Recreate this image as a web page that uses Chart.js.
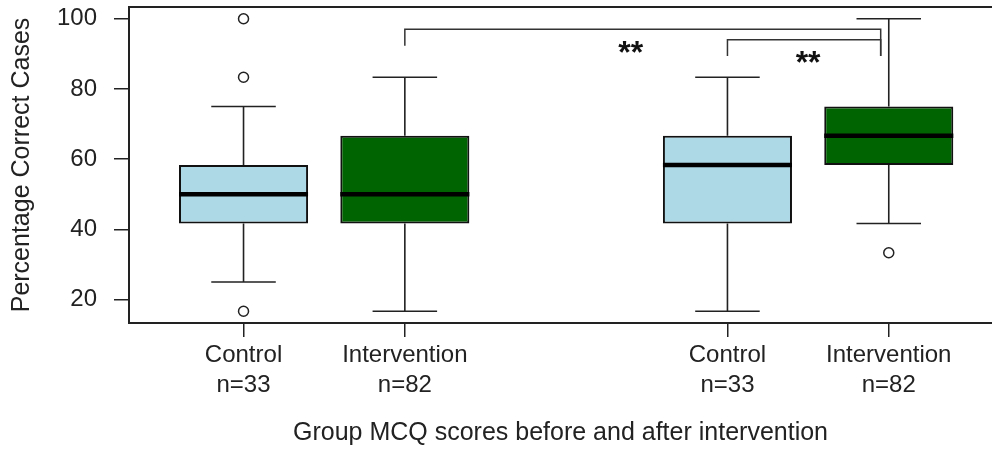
<!DOCTYPE html>
<html>
<head>
<meta charset="utf-8">
<script src="https://cdn.jsdelivr.net/npm/chart.js@4"></script>
<style>
  html, body { margin: 0; padding: 0; background: #ffffff; }
  #wrap { width: 992px; height: 450px; position: relative; }
</style>
</head>
<body>
<div id="wrap"><canvas id="chart"></canvas></div>
<script>
// Box positions and labels
const positions = [1, 2, 4, 5];
const groups = ['Control', 'Intervention', 'Control', 'Intervention'];
const sizes = ['n=33', 'n=82', 'n=33', 'n=82'];

// Five-number summaries (percentage correct)
const whiskerLow = [25, 16.67, 16.67, 41.67];
const quartile1 = [41.67, 41.67, 41.67, 58.33];
const medians = [50, 50, 58.33, 66.67];
const quartile3 = [58.33, 66.67, 66.67, 75];
const whiskerHigh = [75, 83.33, 83.33, 100];

// Outlying scores
const outlierX = [1, 1, 1, 5];
const outlierY = [100, 83.33, 16.67, 33.33];

// Y axis ticks
const yTicks = [20, 40, 60, 80, 100];

// Significance brackets and their labels
const bracketFrom = [2, 4];
const bracketTo = [4.95, 4.95];
const bracketTop = [97, 94];
const bracketLeftFoot = [92.3, 89.4];
const bracketRightFoot = [89.4, 89.4];
const starX = [3.4, 4.5];
const starY = [92, 89];
const starText = ['**', '**'];

const boxColors = { Control: '#ADD8E6', Intervention: '#006400' };
const FONT = "'Liberation Sans', Arial, sans-serif";
const INK = '#222222';
const CAP_WIDTH = 0.4;

const boxplotParts = {
  id: 'boxplotParts',
  beforeDatasetsDraw(chart) {
    const { ctx, scales: { x, y } } = chart;
    ctx.save();
    ctx.strokeStyle = INK;
    ctx.lineWidth = 1.6;
    positions.forEach((p, i) => {
      const cx = x.getPixelForValue(p);
      const left = x.getPixelForValue(p - CAP_WIDTH / 2);
      const right = x.getPixelForValue(p + CAP_WIDTH / 2);
      const yLo = y.getPixelForValue(whiskerLow[i]);
      const yQ1 = y.getPixelForValue(quartile1[i]);
      const yQ3 = y.getPixelForValue(quartile3[i]);
      const yHi = y.getPixelForValue(whiskerHigh[i]);
      ctx.beginPath();
      ctx.moveTo(cx, yQ3); ctx.lineTo(cx, yHi);
      ctx.moveTo(cx, yQ1); ctx.lineTo(cx, yLo);
      ctx.moveTo(left, yHi); ctx.lineTo(right, yHi);
      ctx.moveTo(left, yLo); ctx.lineTo(right, yLo);
      ctx.stroke();
    });
    ctx.restore();
  },
  afterDatasetsDraw(chart) {
    const { ctx, chartArea, scales: { x, y } } = chart;
    const bars = chart.getDatasetMeta(0).data;
    ctx.save();
    // medians
    ctx.strokeStyle = '#000000';
    ctx.lineWidth = 4.5;
    bars.forEach((bar, i) => {
      const ym = y.getPixelForValue(medians[i]);
      ctx.beginPath();
      ctx.moveTo(bar.x - bar.width / 2, ym);
      ctx.lineTo(bar.x + bar.width / 2, ym);
      ctx.stroke();
    });
    // brackets
    ctx.strokeStyle = '#333333';
    ctx.lineWidth = 1.5;
    bracketFrom.forEach((f, i) => {
      ctx.beginPath();
      ctx.moveTo(x.getPixelForValue(f), y.getPixelForValue(bracketLeftFoot[i]));
      ctx.lineTo(x.getPixelForValue(f), y.getPixelForValue(bracketTop[i]));
      ctx.lineTo(x.getPixelForValue(bracketTo[i]), y.getPixelForValue(bracketTop[i]));
      ctx.lineTo(x.getPixelForValue(bracketTo[i]), y.getPixelForValue(bracketRightFoot[i]));
      ctx.stroke();
    });
    // significance stars, centred on their point
    ctx.fillStyle = '#111111';
    ctx.font = 'bold 32px ' + FONT;
    ctx.textAlign = 'center';
    ctx.textBaseline = 'alphabetic';
    starText.forEach((t, i) => {
      const m = ctx.measureText(t);
      const cy = y.getPixelForValue(starY[i]);
      const base = cy + (m.actualBoundingBoxAscent - m.actualBoundingBoxDescent) / 2;
      ctx.fillText(t, x.getPixelForValue(starX[i]), base);
    });
    // top of the frame
    ctx.strokeStyle = INK;
    ctx.lineWidth = 2;
    ctx.beginPath();
    ctx.moveTo(chartArea.left, chartArea.top);
    ctx.lineTo(chartArea.right, chartArea.top);
    ctx.stroke();
    ctx.restore();
  }
};

new Chart(document.getElementById('chart'), {
  type: 'bar',
  data: {
    datasets: [
      {
        type: 'bar',
        label: 'Interquartile range',
        data: positions.map((p, i) => ({ x: p, y: [quartile1[i], quartile3[i]] })),
        backgroundColor: groups.map(g => boxColors[g]),
        borderColor: '#111111',
        borderWidth: 2,
        borderSkipped: false,
        barPercentage: 0.8,
        categoryPercentage: 1,
        grouped: false
      },
      {
        type: 'scatter',
        label: 'Outliers',
        data: outlierX.map((p, i) => ({ x: p, y: outlierY[i] })),
        pointRadius: 5,
        pointBorderWidth: 1.5,
        pointBackgroundColor: '#ffffff',
        pointBorderColor: INK,
        showLine: false
      }
    ]
  },
  options: {
    responsive: true,
    maintainAspectRatio: false,
    animation: false,
    layout: { autoPadding: false, padding: { top: 7, left: 0, right: 0, bottom: 0 } },
    plugins: { legend: { display: false }, tooltip: { enabled: false } },
    scales: {
      x: {
        type: 'linear',
        min: 0.29,
        max: 5.64,
        offset: false,
        afterBuildTicks: s => { s.ticks = positions.map(v => ({ value: v })); },
        afterFit: s => { s.height = 127; s.paddingLeft = 0; s.paddingRight = 0; },
        ticks: {
          autoSkip: false,
          maxRotation: 0,
          minRotation: 0,
          padding: 3,
          color: INK,
          font: { family: FONT, size: 24, lineHeight: 1.25 },
          callback: v => {
            const i = positions.indexOf(v);
            return i < 0 ? '' : [groups[i], sizes[i]];
          }
        },
        grid: { offset: false, drawOnChartArea: false, drawTicks: true, tickLength: 14, color: INK, lineWidth: 1.5 },
        border: { display: true, color: INK, width: 2 },
        title: {
          display: true,
          text: 'Group MCQ scores before and after intervention',
          color: INK,
          font: { family: FONT, size: 25, lineHeight: 1.2 },
          padding: { top: 0, bottom: 2 }
        }
      },
      y: {
        type: 'linear',
        min: 13.33,
        max: 103.33,
        afterBuildTicks: s => { s.ticks = yTicks.map(v => ({ value: v })); },
        afterFit: s => { s.width = 129; s.paddingTop = 0; s.paddingBottom = 0; },
        ticks: {
          padding: 17,
          color: INK,
          font: { family: FONT, size: 24 }
        },
        grid: { drawOnChartArea: false, drawTicks: true, tickLength: 15, color: INK, lineWidth: 1.5 },
        border: { display: true, color: INK, width: 2 },
        title: {
          display: true,
          text: 'Percentage Correct Cases',
          color: INK,
          font: { family: FONT, size: 25, lineHeight: 1.2 },
          padding: { top: 7, bottom: 0 }
        }
      }
    }
  },
  plugins: [boxplotParts]
});
</script>
</body>
</html>
